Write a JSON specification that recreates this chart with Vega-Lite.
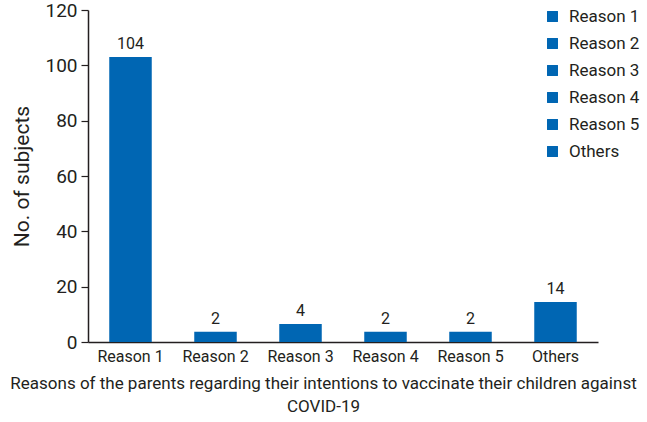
{
  "$schema": "https://vega.github.io/schema/vega-lite/v6.json",
  "autosize": {"type": "none"},
  "padding": {"left": 88, "top": 10, "right": 49, "bottom": 80},
  "width": 510,
  "height": 332,
  "background": "white",
  "config": {
    "view": {"stroke": null},
    "font": "Roboto",
    "axis": {"grid": false, "domainColor": "#231f20", "tickColor": "#231f20", "labelColor": "#231f20", "titleColor": "#231f20", "labelFont": "Roboto", "titleFont": "Roboto", "titleFontWeight": "normal"},
    "legend": {"labelFont": "Roboto", "labelColor": "#231f20"}
  },
  "data": {
    "values": [
      {"reason": "Reason 1", "n": 104, "bar": 103},
      {"reason": "Reason 2", "n": 2, "bar": 3.7},
      {"reason": "Reason 3", "n": 4, "bar": 6.5},
      {"reason": "Reason 4", "n": 2, "bar": 3.7},
      {"reason": "Reason 5", "n": 2, "bar": 3.7},
      {"reason": "Others", "n": 14, "bar": 14.5}
    ]
  },
  "encoding": {
    "x": {
      "field": "reason",
      "type": "nominal",
      "sort": null,
      "scale": {"paddingInner": 0.5, "paddingOuter": 0.25},
      "axis": {
        "title": ["Reasons of the parents regarding their intentions to vaccinate their children against", "COVID-19"],
        "titleFontSize": 17,
        "titleX": 235,
        "titleY": 33,
        "titleBaseline": "top",
        "titleLineHeight": 23,
        "labelAngle": 0,
        "labelFontSize": 16,
        "labelPadding": 6,
        "ticks": false,
        "domainWidth": 1.5
      }
    },
    "y": {
      "field": "bar",
      "type": "quantitative",
      "scale": {"domain": [0, 120]},
      "axis": {
        "title": "No. of subjects",
        "titleFontSize": 21,
        "titlePadding": 12,
        "values": [0, 20, 40, 60, 80, 100, 120],
        "labelFontSize": 19,
        "labelPadding": 4,
        "tickSize": 7,
        "domainWidth": 1.5,
        "tickWidth": 1.2
      }
    }
  },
  "layer": [
    {
      "mark": {"type": "bar"},
      "encoding": {
        "color": {
          "field": "reason",
          "type": "nominal",
          "sort": null,
          "scale": {"range": ["#0066b3", "#0066b3", "#0066b3", "#0066b3", "#0066b3", "#0066b3"]},
          "legend": {
            "title": null,
            "orient": "none",
            "legendX": 456,
            "legendY": -2,
            "symbolType": "square",
            "symbolSize": 120,
            "symbolStrokeWidth": 0,
            "labelFontSize": 17,
            "rowPadding": 9,
            "labelOffset": 8
          }
        }
      }
    },
    {
      "mark": {"type": "text", "baseline": "bottom", "dy": -5, "fontSize": 16, "color": "#231f20"},
      "encoding": {"text": {"field": "n", "type": "quantitative"}}
    }
  ]
}
